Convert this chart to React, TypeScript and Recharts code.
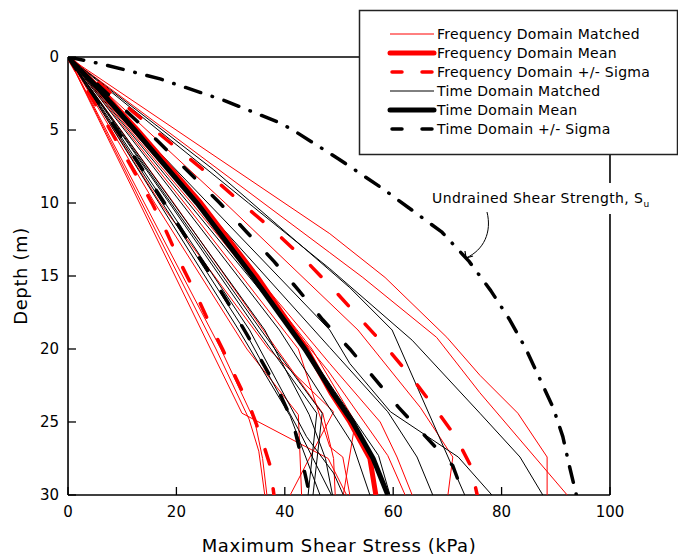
import React from 'react';
import { ScatterChart, Scatter, XAxis, YAxis } from 'recharts';

// every profile is a list of [depth (m), max shear stress (kPa)]
type Pt = [number, number];

const depthTicks = [0, 5, 10, 15, 20, 25, 30];
const depthMinor = [2.5, 7.5, 12.5, 17.5, 22.5, 27.5];
const stressTicks = [0, 20, 40, 60, 80, 100];
const stressMinor = [10, 30, 50, 70, 90];

const freqMatched: Pt[][] = [
  [[0, 0], [12.1, 48.3], [15.1, 58.5], [19.2, 69.9], [21.8, 76], [24.4, 83], [27.4, 88.4], [30, 88.4]],
  [[0, 0], [13.4, 48.3], [15.1, 54.4], [19.2, 68], [23, 76], [30, 92.1]],
  [[0, 0], [10, 29], [18.7, 53.5], [24, 65], [27.4, 71], [30, 70.1]],
  [[0, 0], [10, 23.5], [21, 48.3], [25, 57.6], [27.4, 60.7], [30, 63.5]],
  [[0, 0], [10, 22.8], [21.5, 48], [27.3, 59], [30, 62.2]],
  [[0, 0], [10, 21.5], [20, 42.5], [26.7, 48.3], [27.4, 50.7], [30, 52]],
  [[0, 0], [10, 13.2], [20, 26.3], [24.4, 32.1], [27.5, 48], [30, 51.4]],
  [[0, 0], [10, 13.6], [20, 27.3], [24.8, 33.4], [27, 35.2], [30, 36.3]],
  [[0, 0], [10, 14.1], [20, 28.2], [25, 34.5], [27.5, 35.9], [30, 36.7]],
  [[0, 0], [10, 17], [20, 37], [24.3, 49], [30, 41]],
  [[0, 0], [10, 16], [20, 33], [24.5, 42.5], [30, 43.1]],
  [[0, 0], [10, 19.5], [20, 38.5], [24.4, 47], [27.5, 49], [30, 49.3]],
  [[0, 0], [10, 24], [20, 45], [25, 53], [30, 50.8]],
];

const timeMatched: Pt[][] = [
  [[0, 0], [10, 18.7], [18.7, 34.9], [24.4, 45.9], [30, 44.3]],
  [[0, 0], [10, 19], [18.7, 35.6], [24.4, 46.9], [30, 45.2]],
  [[0, 0], [10, 16.8], [18.7, 31.5], [24.6, 41], [30, 46.5]],
  [[0, 0], [10, 17.4], [18.7, 32.5], [25.5, 42.5], [30, 48.6]],
  [[0, 0], [10, 17.9], [18.7, 33.5], [26, 44], [28.5, 49], [30, 50.8]],
  [[0, 0], [10, 19.4], [18.7, 36.3], [24.5, 44.5], [27.5, 47.5], [30, 48.8]],
  [[0, 0], [10, 20.9], [18.7, 39], [26.5, 52.5], [30, 55.7]],
  [[0, 0], [10, 22.2], [18.7, 41.5], [27.3, 57.3], [30, 59.4]],
  [[0, 0], [10, 24.3], [19.9, 48.3], [24.3, 59], [27.4, 64.4], [30, 67.3]],
  [[0, 0], [10, 25.8], [18.7, 48.3], [21, 52], [24.3, 59.5], [27.4, 72], [30, 78.2]],
  [[0, 0], [7.7, 26.8], [15.8, 52], [18.7, 59.8], [30, 73.2]],
  [[0, 0], [10, 33.3], [14.5, 48.3], [19.4, 63.5], [24.4, 76], [27.4, 83.4], [30, 87.6]],
];

const freqMean: Pt[] = [[0, 0], [2, 5.4], [5, 12.8], [10, 24.5], [15, 34.8], [20, 44], [23, 48.5], [25, 52], [27.5, 55.7], [30, 56.8]];
const timeMean: Pt[] = [[0, 0], [2, 5.2], [5, 12.3], [10, 23.8], [15, 34], [20, 43.7], [23, 48.8], [25, 52.5], [27.5, 56.3], [30, 59]];

const freqPlusSigma: Pt[] = [[0, 0], [5, 16], [8.2, 26.5], [10, 32], [12, 38.3], [14, 44], [16, 49.2], [20, 59], [22, 63.5], [24, 67.6], [26, 71.5], [28, 74.3], [30, 75.5]];
const freqMinusSigma: Pt[] = [[0, 0], [5, 7.8], [10, 15.5], [12, 18.2], [14, 20.6], [16, 23.3], [18, 25.8], [20, 28.5], [22, 31], [24, 33.6], [26, 35.6], [28, 37.3], [30, 38]];
const timePlusSigma: Pt[] = [[0, 0], [5, 14.5], [10, 28], [12, 33], [14, 38], [16, 42.6], [18, 47], [20, 52], [22, 56.5], [24, 61], [26, 66], [28, 71], [30, 73]];
const timeMinusSigma: Pt[] = [[0, 0], [5, 9], [10, 17.8], [13, 22.9], [15, 26.5], [17, 29.8], [19, 33], [21, 36], [23, 39], [25, 41.5], [27, 42.8], [29, 44], [30, 44.6]];

const undrainedStrength: Pt[] = [[0, 0], [0.5, 6.5], [1.5, 17], [3, 29], [4.5, 39], [5, 41.5], [7, 50], [9, 58], [12, 69], [14, 74], [16, 78], [18, 81.5], [20, 84.5], [22, 87], [24, 89.5], [26, 91.3], [28, 92.5], [30, 93.8]];

const legendItems = [
  { label: 'Frequency Domain Matched', color: '#ff0000', width: 1, dashed: false },
  { label: 'Frequency Domain Mean', color: '#ff0000', width: 5, dashed: false },
  { label: 'Frequency Domain +/- Sigma', color: '#ff0000', width: 3.5, dashed: true },
  { label: 'Time Domain Matched', color: '#000000', width: 1, dashed: false },
  { label: 'Time Domain Mean', color: '#000000', width: 5, dashed: false },
  { label: 'Time Domain +/- Sigma', color: '#000000', width: 3.5, dashed: true },
];

const FONT = '"DejaVu Sans", Verdana, sans-serif';
const toRows = (pts: Pt[]) => pts.map(([d, s]) => ({ d, s }));
const noDot = () => <g />;

function profile(key: string, pts: Pt[], stroke: string, width: number, dash?: string) {
  return (
    <Scatter
      key={key}
      data={toRows(pts)}
      isAnimationActive={false}
      legendType="none"
      fill={stroke}
      shape={noDot}
      line={{
        stroke,
        strokeWidth: width,
        strokeDasharray: dash,
        strokeLinecap: dash ? 'round' : 'butt',
        strokeLinejoin: 'round',
      }}
    />
  );
}

// axes need a non-zero box to render; keep it negligible so the plot frame sits on the margins
const THIN = 0.01;
const axisLine = { stroke: '#000', strokeWidth: 1.6 };
const tickLine = { stroke: '#000', strokeWidth: 1.3 };
const tickText = { fill: '#000', fontSize: 15, fontFamily: FONT };

export default function App() {
  return (
    <div style={{ position: 'absolute', left: 0, top: 0, width: 678, height: 556, background: '#fff' }}>
      <ScatterChart width={678} height={556} margin={{ top: 57, right: 68, bottom: 61, left: 68 }}>
        <XAxis xAxisId={0} type="number" dataKey="s" domain={[0, 100]} allowDataOverflow ticks={stressTicks} interval={0}
          height={THIN} tickSize={-8} tickMargin={19} axisLine={axisLine} tickLine={tickLine} tick={tickText} />
        <XAxis xAxisId="bMinor" type="number" domain={[0, 100]} allowDataOverflow ticks={stressMinor} interval={0}
          height={THIN} tickSize={-4} tick={false} axisLine={false} tickLine={tickLine} />
        <XAxis xAxisId="top" orientation="top" type="number" domain={[0, 100]} allowDataOverflow ticks={stressTicks} interval={0}
          height={THIN} tickSize={-8} tick={false} axisLine={axisLine} tickLine={tickLine} />
        <XAxis xAxisId="tMinor" orientation="top" type="number" domain={[0, 100]} allowDataOverflow ticks={stressMinor} interval={0}
          height={THIN} tickSize={-4} tick={false} axisLine={false} tickLine={tickLine} />
        <YAxis yAxisId={0} type="number" dataKey="d" domain={[0, 30]} reversed allowDataOverflow ticks={depthTicks} interval={0}
          width={THIN} tickSize={-8} tickMargin={17} axisLine={axisLine} tickLine={tickLine} tick={tickText} />
        <YAxis yAxisId="lMinor" type="number" domain={[0, 30]} reversed allowDataOverflow ticks={depthMinor} interval={0}
          width={THIN} tickSize={-4} tick={false} axisLine={false} tickLine={tickLine} />
        <YAxis yAxisId="right" orientation="right" type="number" domain={[0, 30]} reversed allowDataOverflow ticks={depthTicks} interval={0}
          width={THIN} tickSize={-8} tick={false} axisLine={axisLine} tickLine={tickLine} />
        <YAxis yAxisId="rMinor" orientation="right" type="number" domain={[0, 30]} reversed allowDataOverflow ticks={depthMinor} interval={0}
          width={THIN} tickSize={-4} tick={false} axisLine={false} tickLine={tickLine} />

        {freqMatched.map((p, i) => profile(`fm${i}`, p, '#ff0000', 1))}
        {timeMatched.map((p, i) => profile(`tm${i}`, p, '#000000', 1))}
        {profile('fMean', freqMean, '#ff0000', 5)}
        {profile('tMean', timeMean, '#000000', 5)}
        {profile('fPlus', freqPlusSigma, '#ff0000', 3.5, '15 25')}
        {profile('fMinus', freqMinusSigma, '#ff0000', 3.5, '15 25')}
        {profile('tPlus', timePlusSigma, '#000000', 3.5, '15 25')}
        {profile('tMinus', timeMinusSigma, '#000000', 3.5, '15 25')}
        {profile('su', undrainedStrength, '#000000', 3.5, '16 12 0.5 12')}
      </ScatterChart>

      <svg width={678} height={556} style={{ position: 'absolute', left: 0, top: 0, pointerEvents: 'none' }}>
        {/* legend box */}
        <rect x={359.5} y={10.5} width={318} height={144} fill="#fff" stroke="#222" strokeWidth={1.5} />
        {legendItems.map((it, i) => {
          const cy = 34 + i * 19;
          return (
            <g key={it.label}>
              {it.dashed ? (
                <>
                  <line x1={392} x2={402} y1={cy} y2={cy} stroke={it.color} strokeWidth={it.width} strokeLinecap="round" />
                  <line x1={422} x2={432} y1={cy} y2={cy} stroke={it.color} strokeWidth={it.width} strokeLinecap="round" />
                </>
              ) : (
                <line x1={390} x2={434} y1={cy} y2={cy} stroke={it.color} strokeWidth={it.width}
                  strokeLinecap={it.width > 2 ? 'round' : 'butt'} />
              )}
              <text x={437} y={cy + 5} fontFamily={FONT} fontSize={14} letterSpacing={0.3} fill="#000">{it.label}</text>
            </g>
          );
        })}

        {/* Su annotation */}
        <rect x={428} y={183} width={226} height={31} fill="#fff" />
        <text x={432} y={203} fontFamily={FONT} fontSize={14} letterSpacing={0.4} fill="#000">
          Undrained Shear Strength, S<tspan fontSize={9} dy={4}>u</tspan>
        </text>
        <path d="M487,212 C492,232 484,250 466,258" fill="none" stroke="#000" strokeWidth={1} />
        <path d="M465,251 L466,258 L473,256" fill="none" stroke="#000" strokeWidth={1.2} />

        {/* axis titles */}
        <text x={339} y={552} textAnchor="middle" fontFamily={FONT} fontSize={18} letterSpacing={0.6} fill="#000">Maximum Shear Stress (kPa)</text>
        <text transform="translate(27,276) rotate(-90)" textAnchor="middle" fontFamily={FONT} fontSize={18} letterSpacing={0.6} fill="#000">Depth (m)</text>
      </svg>
    </div>
  );
}
